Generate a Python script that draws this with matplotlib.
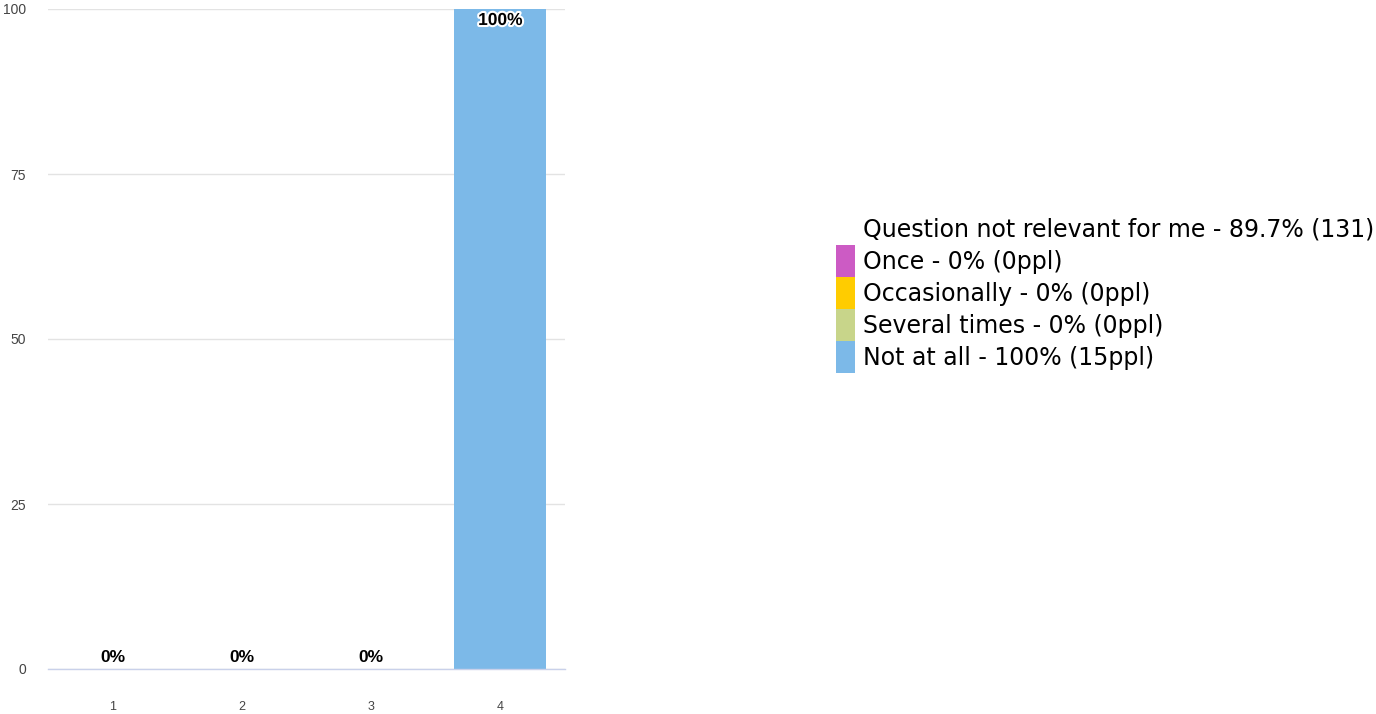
import matplotlib
matplotlib.use('Agg')
import matplotlib.pyplot as plt
import matplotlib.patheffects as pe
from matplotlib.patches import Patch
import numpy as np

categories = ['1', '2', '3', '4']
values = [0, 0, 0, 100]
bar_labels = ['0%', '0%', '0%', '100%']
y_ticks = [0, 25, 50, 75, 100]

legend_labels = ['Question not relevant for me - 89.7% (131)',
                 'Once - 0% (0ppl)',
                 'Occasionally - 0% (0ppl)',
                 'Several times - 0% (0ppl)',
                 'Not at all - 100% (15ppl)']
legend_colors = ['none', '#cc5bc4', '#ffcc00', '#c8d58a', '#7cb9e8']
bar_color = '#7cb9e8'

W, H = 1376, 714
fig = plt.figure(figsize=(W / 100, H / 100), dpi=100)
ax = fig.add_axes([48 / W, 1 - 669 / H, (565 - 48) / W, (669 - 9) / H])

x = np.arange(1, len(categories) + 1)
ax.bar(x, values, width=0.71, color=bar_color, zorder=2)

for xi, v, lab in zip(x, values, bar_labels):
    if v > 0:
        t = ax.text(xi, v - 0.6, lab, ha='center', va='top', fontsize=12.5,
                    fontweight='bold', family='Liberation Sans', color='black', zorder=3)
        t.set_path_effects([pe.withStroke(linewidth=3, foreground='white')])
    else:
        ax.text(xi, v + 0.6, lab, ha='center', va='bottom', fontsize=12.5,
                fontweight='bold', family='Liberation Sans', color='black', zorder=3)

ax.set_xlim(0.5, 4.5)
ax.set_ylim(0, 100)
ax.set_xticks(x)
ax.set_xticklabels(categories)
ax.set_yticks(y_ticks)
ax.tick_params(axis='both', length=0, labelcolor='#444444')
ax.tick_params(axis='x', pad=23, labelsize=9)
ax.tick_params(axis='y', pad=16, labelsize=10)
for lab in ax.get_xticklabels() + ax.get_yticklabels():
    lab.set_family('Liberation Sans')

ax.grid(axis='y', color='#e3e3e3', linewidth=1, zorder=0)
ax.set_axisbelow(True)
for s in ['top', 'right', 'left']:
    ax.spines[s].set_visible(False)
ax.spines['bottom'].set_color('#c9d1ea')
ax.spines['bottom'].set_linewidth(1)

handles = [Patch(facecolor=c, edgecolor='none') for c in legend_colors]
fig.legend(handles, legend_labels, loc='upper left',
           bbox_to_anchor=(836 / W, 1 - 213 / H), frameon=False,
           fontsize=17, labelspacing=0, handlelength=0.80, handleheight=1.708,
           handletextpad=0.34, borderpad=0, borderaxespad=0)

fig.savefig('out.png', dpi=100, facecolor='white')
